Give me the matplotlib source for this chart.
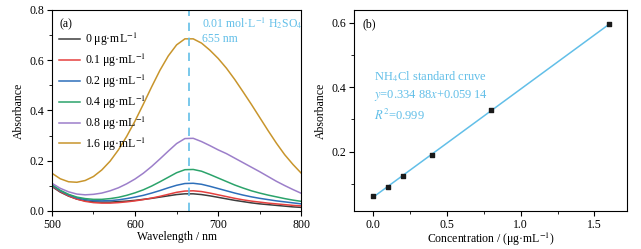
import numpy as np
import matplotlib
matplotlib.use('Agg')
import matplotlib.pyplot as plt
from matplotlib.ticker import MultipleLocator

plt.rcParams['font.family'] = ['Liberation Serif', 'DejaVu Serif']
plt.rcParams['mathtext.fontset'] = 'stix'
plt.rcParams['font.size'] = 8.5

wavelength = list(range(500, 801, 10))
abs_0 = [0.097, 0.075, 0.059, 0.047, 0.040, 0.036, 0.035, 0.035, 0.037, 0.039, 0.042,
         0.046, 0.050, 0.055, 0.060, 0.065, 0.068, 0.068, 0.065, 0.060, 0.054,
         0.048, 0.042, 0.037, 0.032, 0.028, 0.025, 0.022, 0.019, 0.016, 0.014]
abs_01 = [0.100, 0.077, 0.060, 0.047, 0.038, 0.033, 0.031, 0.031, 0.033, 0.036, 0.040,
          0.045, 0.051, 0.058, 0.066, 0.074, 0.079, 0.080, 0.077, 0.071, 0.064,
          0.057, 0.050, 0.044, 0.039, 0.035, 0.031, 0.028, 0.025, 0.022, 0.020]
abs_02 = [0.102, 0.080, 0.064, 0.052, 0.045, 0.041, 0.040, 0.041, 0.044, 0.049, 0.055,
          0.062, 0.071, 0.081, 0.092, 0.102, 0.109, 0.110, 0.106, 0.098, 0.089,
          0.080, 0.071, 0.063, 0.056, 0.050, 0.045, 0.040, 0.036, 0.032, 0.028]
abs_04 = [0.105, 0.082, 0.066, 0.055, 0.049, 0.046, 0.046, 0.049, 0.054, 0.062, 0.072,
          0.084, 0.099, 0.116, 0.134, 0.152, 0.164, 0.165, 0.158, 0.145, 0.131,
          0.117, 0.103, 0.091, 0.080, 0.071, 0.063, 0.056, 0.049, 0.043, 0.038]
abs_08 = [0.110, 0.090, 0.076, 0.067, 0.064, 0.066, 0.071, 0.080, 0.092, 0.108, 0.127,
          0.150, 0.177, 0.207, 0.238, 0.268, 0.288, 0.289, 0.276, 0.260, 0.243,
          0.228, 0.210, 0.192, 0.174, 0.156, 0.137, 0.118, 0.101, 0.085, 0.070]
abs_16 = [0.150, 0.128, 0.116, 0.114, 0.121, 0.137, 0.163, 0.198, 0.243, 0.297, 0.358,
          0.425, 0.494, 0.560, 0.617, 0.661, 0.685, 0.685, 0.668, 0.640, 0.607,
          0.568, 0.523, 0.474, 0.424, 0.372, 0.320, 0.270, 0.224, 0.185, 0.150]
spectra = [abs_0, abs_01, abs_02, abs_04, abs_08, abs_16]
labels = ['0', '0.1', '0.2', '0.4', '0.8', '1.6']
colors = ['#3d3d3d', '#e5403f', '#2e6fba', '#2ba36b', '#9c7fca', '#c8952c']
peak_nm = 665

# (b) standard curve
conc = [0, 0.1, 0.2, 0.4, 0.8, 1.6]
absorb = [0.063, 0.091, 0.125, 0.189, 0.330, 0.595]
slope, intercept = 0.33488, 0.05914

light_blue = '#62bfe8'

fig = plt.figure(figsize=(6.41, 2.49), dpi=100)
ax1 = fig.add_axes([0.081, 0.153, 0.389, 0.807])
ax2 = fig.add_axes([0.552, 0.153, 0.426, 0.807])

for y, lab, c in zip(spectra, labels, colors):
    ax1.plot(wavelength, y, color=c, lw=1.1, label=lab + r' μg·mL$^{-1}$')
ax1.axvline(peak_nm, color=light_blue, lw=1.2, ls=(0, (5, 4)))
ax1.set_xlim(500, 800)
ax1.set_ylim(0, 0.8)
ax1.xaxis.set_major_locator(MultipleLocator(100))
ax1.xaxis.set_minor_locator(MultipleLocator(50))
ax1.yaxis.set_major_locator(MultipleLocator(0.2))
ax1.yaxis.set_minor_locator(MultipleLocator(0.1))
ax1.set_xlabel('Wavelength / nm', labelpad=0)
ax1.set_ylabel('Absorbance', labelpad=3)
ax1.text(0.03, 0.96, '(a)', transform=ax1.transAxes, va='top', ha='left')
ax1.text(0.60, 0.912, r'0.01 mol·L$^{-1}$ H$_2$SO$_4$', transform=ax1.transAxes,
         va='baseline', ha='left', color=light_blue, fontsize=8.5)
ax1.text(0.60, 0.842, '655 nm', transform=ax1.transAxes,
         va='baseline', ha='left', color=light_blue, fontsize=8.5)
ax1.legend(loc='upper left', bbox_to_anchor=(0.0, 0.93), frameon=False, fontsize=8.5,
           handlelength=1.8, handletextpad=0.4, labelspacing=0.3, borderaxespad=0.2)

xfit = np.array([conc[0], conc[-1]])
ax2.plot(xfit, slope * xfit + intercept, color=light_blue, lw=1.1, zorder=1)
ax2.scatter(conc, absorb, marker='s', s=10, color='#1a1a1a', zorder=2)
ax2.set_xlim(-0.13, 1.72)
ax2.set_ylim(0.017, 0.639)
ax2.xaxis.set_major_locator(MultipleLocator(0.5))
ax2.xaxis.set_minor_locator(MultipleLocator(0.25))
ax2.yaxis.set_major_locator(MultipleLocator(0.2))
ax2.yaxis.set_minor_locator(MultipleLocator(0.1))
ax2.set_xlabel(r'Concentration / (μg·mL$^{-1}$)', labelpad=0)
ax2.set_ylabel('Absorbance', labelpad=3)
ax2.text(0.03, 0.96, '(b)', transform=ax2.transAxes, va='top', ha='left')
ax2.text(0.01, 0.432, r'NH$_4$Cl standard cruve', color=light_blue, va='center', fontsize=9)
ax2.text(0.01, 0.373, r'$y$=0.334 88$x$+0.059 14', color=light_blue, va='center', fontsize=9)
ax2.text(0.01, 0.314, r'$R^2$=0.999', color=light_blue, va='center', fontsize=9)

for ax in (ax1, ax2):
    ax.tick_params(which='both', direction='out', top=False, right=False)
    ax.tick_params(which='major', length=3.5, pad=2)
    ax.tick_params(which='minor', length=2)

fig.savefig('out.png', dpi=100)
